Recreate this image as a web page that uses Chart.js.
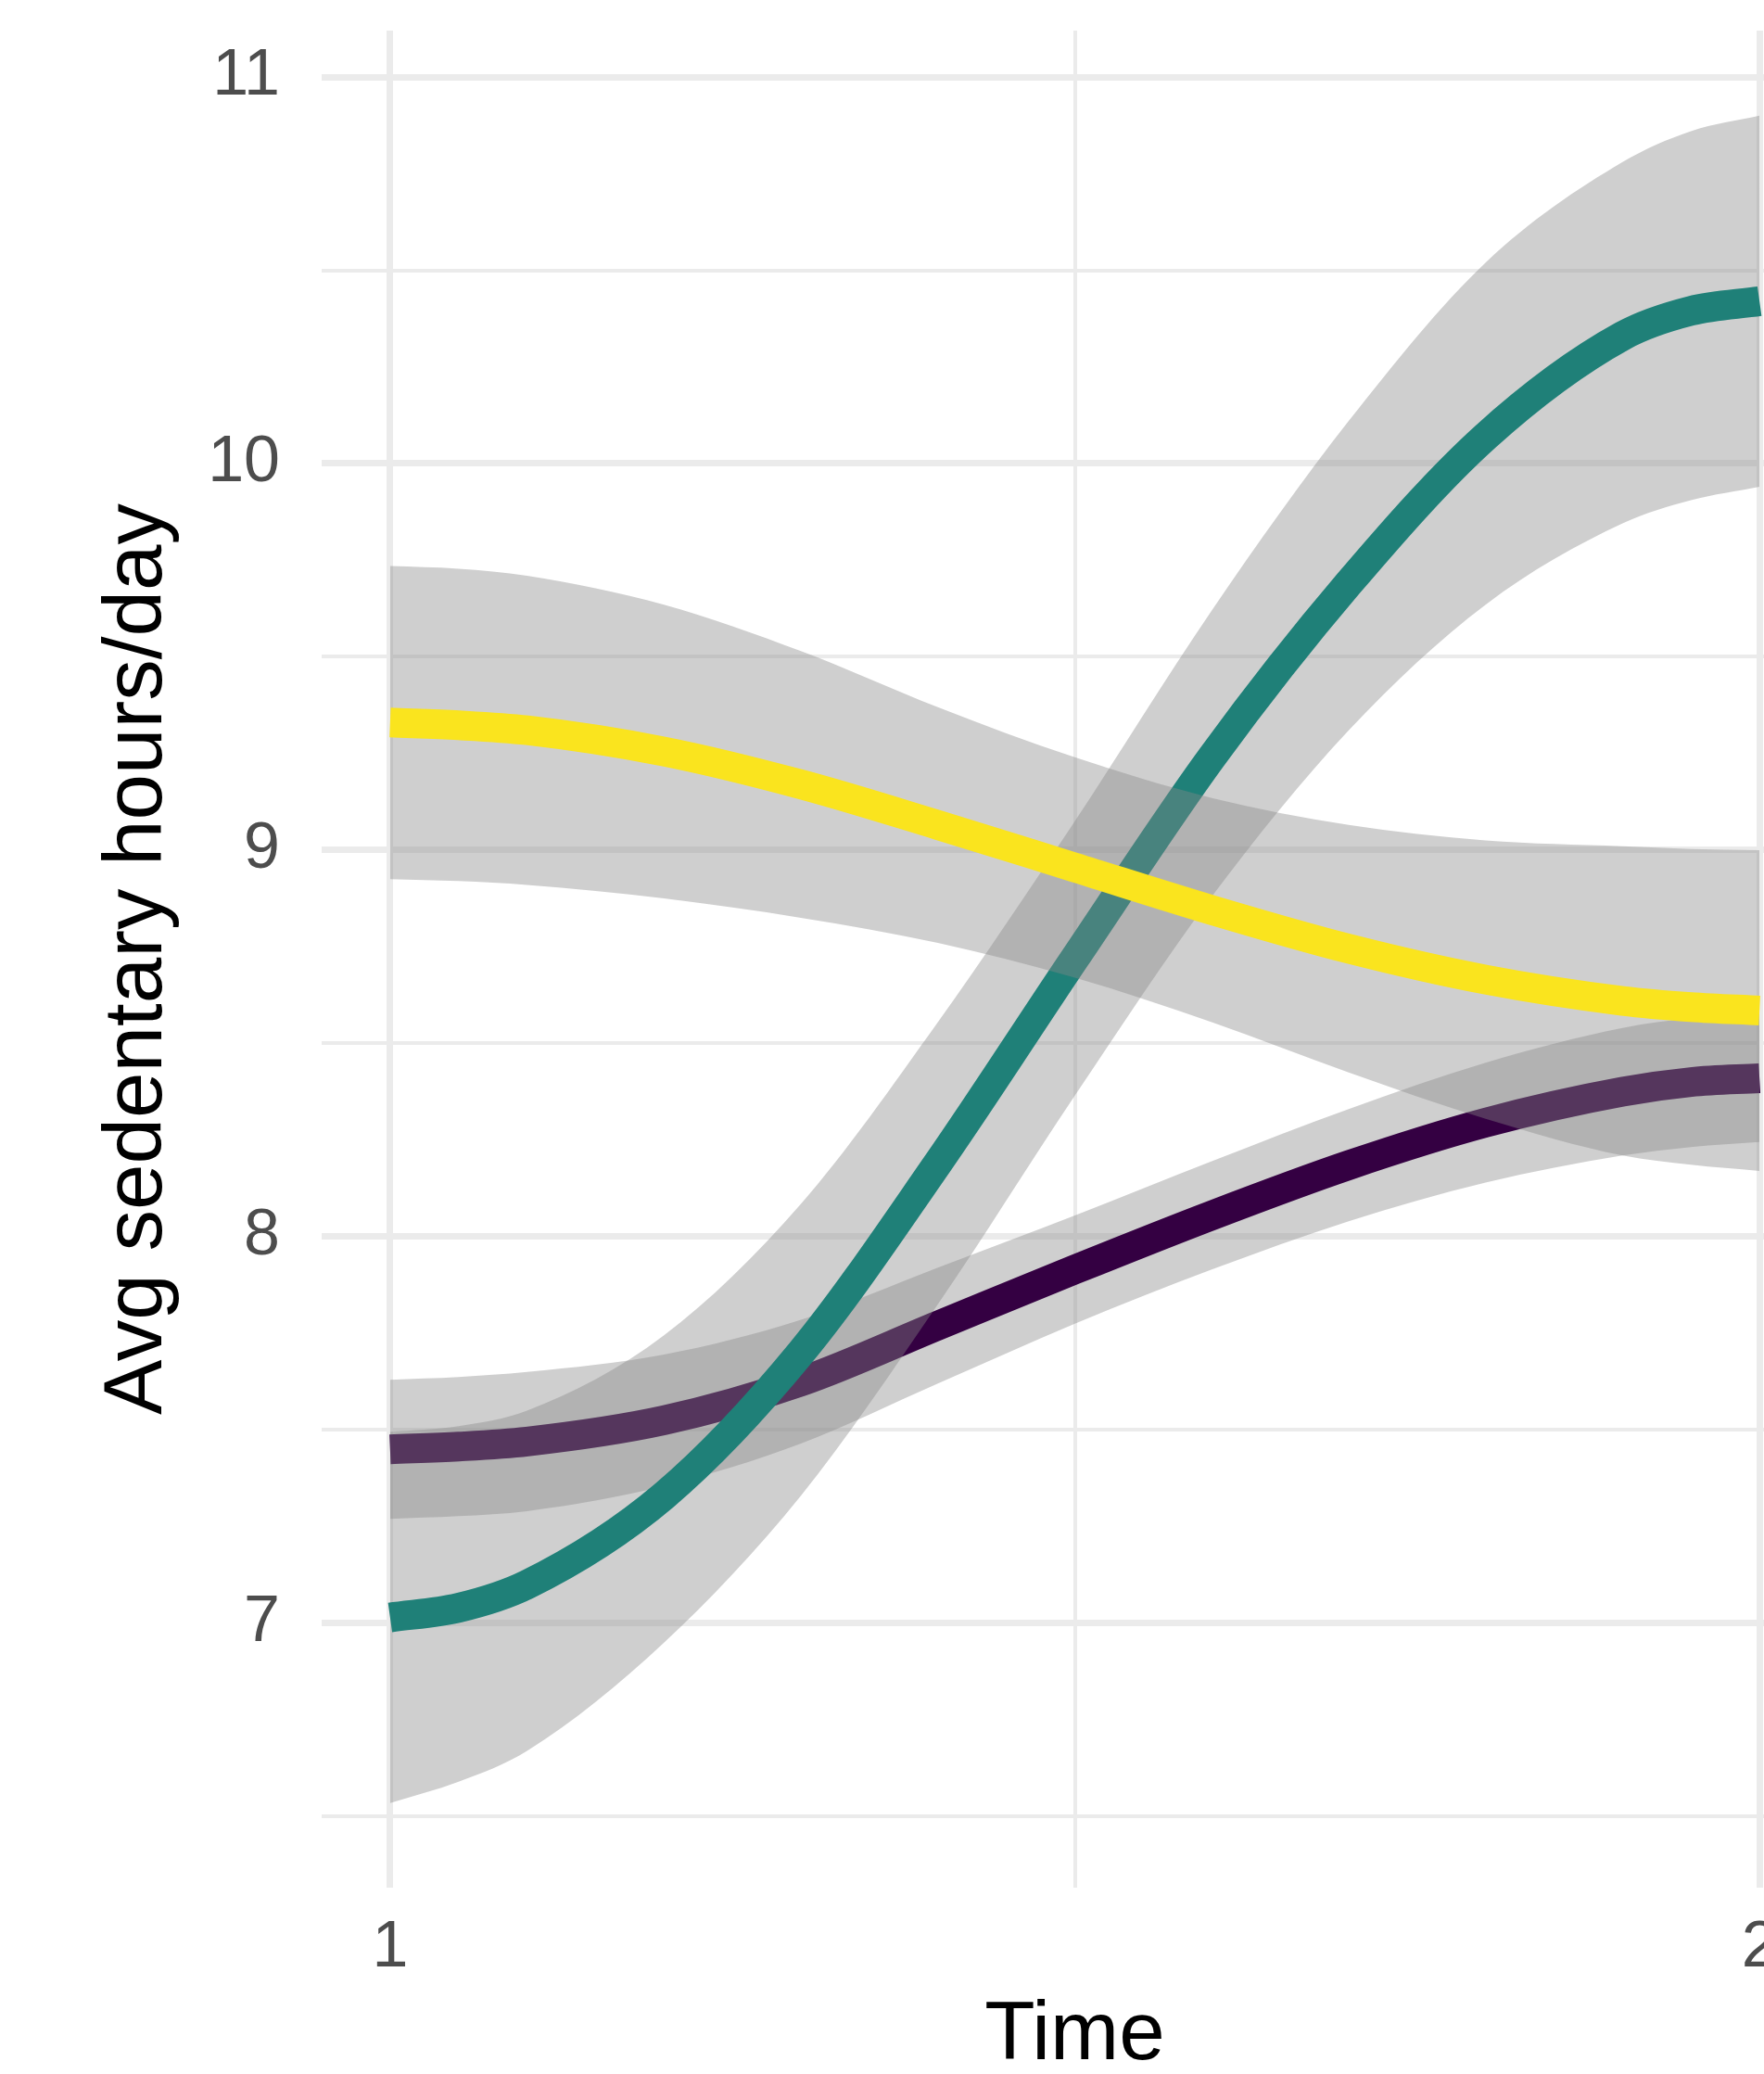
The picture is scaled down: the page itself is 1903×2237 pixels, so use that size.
<!DOCTYPE html>
<html>
<head>
<meta charset="utf-8">
<script src="https://cdn.jsdelivr.net/npm/chart.js@4.4.1/dist/chart.umd.min.js"></script>
<style>
  html, body { margin: 0; padding: 0; background: #fff; overflow: hidden; }
  canvas { display: block; }
</style>
</head>
<body>
<canvas id="sedentario" width="1980" height="2237" style="width:1980px;height:2237px"></canvas>
<script>
// Dados (tempo de 1 a 2)
const tempo = [1, 1.05, 1.1, 1.2, 1.3, 1.4, 1.5, 1.6, 1.7, 1.8, 1.9, 1.95, 2];

// Grupo 1 (roxo)
const roxoMedia = [7.45, 7.457, 7.47, 7.525, 7.625, 7.77, 7.915, 8.055, 8.185, 8.295, 8.375, 8.40, 8.41];
const roxoSup   = [7.63, 7.637, 7.65, 7.695, 7.785, 7.92, 8.055, 8.195, 8.33, 8.45, 8.54, 8.565, 8.575];
const roxoInf   = [7.27, 7.277, 7.29, 7.355, 7.465, 7.62, 7.775, 7.915, 8.04, 8.14, 8.21, 8.232, 8.245];

// Grupo 2 (verde-azulado)
const tealMedia = [7.015, 7.04, 7.10, 7.33, 7.70, 8.19, 8.72, 9.24, 9.69, 10.07, 10.33, 10.395, 10.42];
const tealSup   = [7.495, 7.51, 7.55, 7.745, 8.085, 8.555, 9.075, 9.62, 10.11, 10.52, 10.78, 10.86, 10.90];
const tealInf   = [6.535, 6.59, 6.67, 6.95, 7.33, 7.825, 8.365, 8.88, 9.31, 9.635, 9.845, 9.905, 9.94];

// Grupo 3 (amarelo)
const amareloMedia = [9.33, 9.323, 9.31, 9.255, 9.17, 9.065, 8.955, 8.845, 8.745, 8.665, 8.61, 8.594, 8.585];
const amareloSup   = [9.735, 9.728, 9.71, 9.635, 9.515, 9.37, 9.24, 9.135, 9.065, 9.025, 9.01, 9.003, 9.0];
const amareloInf   = [8.925, 8.92, 8.91, 8.875, 8.825, 8.76, 8.67, 8.555, 8.425, 8.305, 8.21, 8.186, 8.17];

// Ticks dos eixos
const ticksX = [1, 1.5, 2];
const ticksY = [6.5, 7, 7.5, 8, 8.5, 9, 9.5, 10, 10.5, 11];

const fonte = '"Liberation Sans", Arial, Helvetica, sans-serif';
const corFaixa = 'rgba(135, 135, 135, 0.4)';
const corGrade = '#EBEBEB';

const pontos = valores => tempo.map((t, i) => ({ x: t, y: valores[i] }));

function linha(label, valores, cor, ordem) {
    return {
        label: label,
        data: pontos(valores),
        borderColor: cor,
        borderWidth: 32,
        pointRadius: 0,
        fill: false,
        cubicInterpolationMode: 'monotone',
        order: ordem
    };
}

function faixa(label, valores, alvo, ordem) {
    return {
        label: label,
        data: pontos(valores),
        borderWidth: 0,
        pointRadius: 0,
        backgroundColor: corFaixa,
        fill: alvo === null ? false : alvo,
        cubicInterpolationMode: 'monotone',
        order: ordem
    };
}

// Sem folga extra para os rótulos das pontas
const semFolga = escala => {
    escala.paddingTop = 0;
    escala.paddingBottom = 0;
    escala.paddingLeft = 0;
    escala.paddingRight = 0;
};

const ctx = document.getElementById('sedentario').getContext('2d');
const grafico = new Chart(ctx, {
    type: 'line',
    data: {
        datasets: [
            faixa('roxo inf', roxoInf, null, 6),          // 0
            faixa('roxo sup', roxoSup, 0, 6),             // 1
            linha('roxo', roxoMedia, '#340042', 5),       // 2
            faixa('teal inf', tealInf, null, 4),          // 3
            faixa('teal sup', tealSup, 3, 4),             // 4
            linha('teal', tealMedia, '#1F8078', 3),       // 5
            faixa('amarelo inf', amareloInf, null, 2),    // 6
            faixa('amarelo sup', amareloSup, 6, 2),       // 7
            linha('amarelo', amareloMedia, '#FAE41E', 1)  // 8
        ]
    },
    options: {
        responsive: false,
        animation: false,
        layout: { padding: { top: 33, right: 8, left: 0, bottom: 0 } },
        plugins: {
            legend: { display: false },
            tooltip: { enabled: false }
        },
        scales: {
            x: {
                type: 'linear',
                min: 0.95,
                max: 2.05,
                afterBuildTicks: escala => { escala.ticks = ticksX.map(v => ({ value: v })); },
                afterFit: escala => { escala.height = 201; semFolga(escala); },
                border: { display: false },
                grid: {
                    color: corGrade,
                    drawTicks: false,
                    lineWidth: c => (c.tick && Number.isInteger(c.tick.value)) ? 7 : 4
                },
                ticks: {
                    autoSkip: false,
                    maxRotation: 0,
                    padding: 24,
                    color: '#4D4D4D',
                    font: { family: fonte, size: 70 },
                    callback: v => Number.isInteger(v) ? String(v) : ''
                },
                title: {
                    display: true,
                    text: 'Time',
                    color: '#000',
                    font: { family: fonte, size: 89, lineHeight: 0.9 },
                    padding: { top: 0, bottom: 0 }
                }
            },
            y: {
                type: 'linear',
                min: 6.316,
                max: 11.12,
                afterBuildTicks: escala => { escala.ticks = ticksY.map(v => ({ value: v })); },
                afterFit: escala => { escala.width = 347; semFolga(escala); },
                border: { display: false },
                grid: {
                    color: corGrade,
                    drawTicks: false,
                    lineWidth: c => (c.tick && Number.isInteger(c.tick.value)) ? 7 : 4
                },
                ticks: {
                    autoSkip: false,
                    padding: 45,
                    color: '#4D4D4D',
                    font: { family: fonte, size: 70 },
                    callback: v => Number.isInteger(v) ? String(v) : ''
                },
                title: {
                    display: true,
                    text: 'Avg sedentary hours/day',
                    color: '#000',
                    font: { family: fonte, size: 89, lineHeight: 1 },
                    padding: { top: 105, bottom: 0 }
                }
            }
        }
    }
});
</script>
</body>
</html>
